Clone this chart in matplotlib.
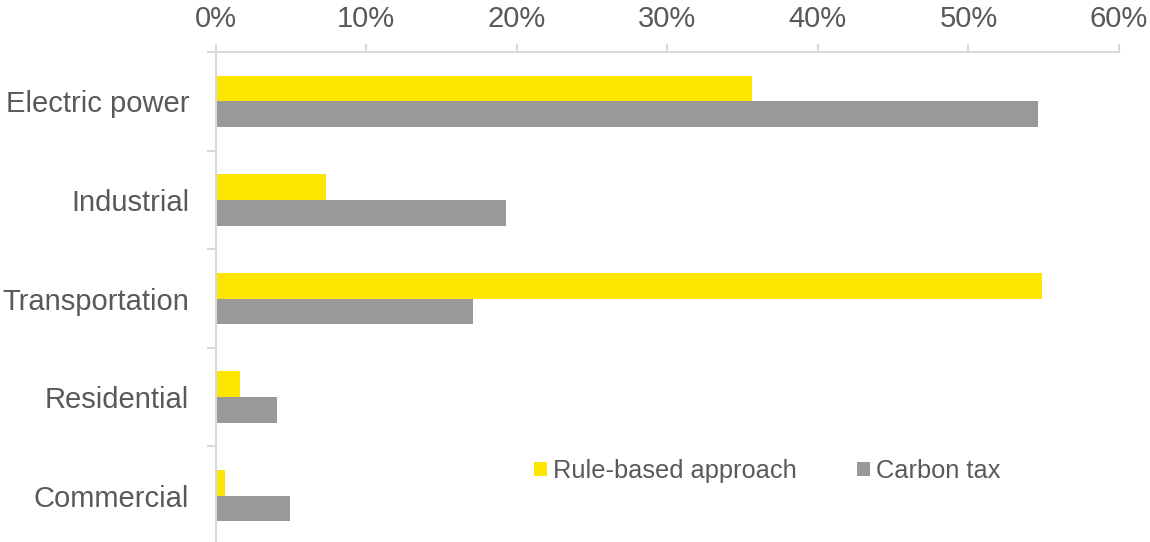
import numpy as np
import matplotlib

matplotlib.use('Agg')
import matplotlib.pyplot as plt
from matplotlib.ticker import PercentFormatter

plt.rcParams['font.family'] = ['Liberation Sans', 'DejaVu Sans']

# data (share of emission reductions, %)
sectors = ['Electric power', 'Industrial', 'Transportation', 'Residential', 'Commercial']
rule_based = [35.6, 7.3, 54.9, 1.6, 0.6]
carbon_tax = [54.6, 19.3, 17.1, 4.1, 4.9]
series_names = ['Rule-based approach', 'Carbon tax']

YELLOW = '#FFE600'
GREY = '#999999'
TEXT = '#595959'
AXIS = '#D9D9D9'

fig = plt.figure(figsize=(11.5, 5.42), dpi=100)
ax = fig.add_axes([0.1876, -0.0055, 0.7854, 0.9095])

y = np.arange(len(sectors))
h = 0.26
ax.barh(y - h / 2, rule_based, height=h, color=YELLOW, label=series_names[0])
ax.barh(y + h / 2, carbon_tax, height=h, color=GREY, label=series_names[1])

ax.set_xlim(0, 60)
ax.set_ylim(len(sectors) - 0.5, -0.5)

# x axis on top
ax.xaxis.tick_top()
ax.set_xticks(np.arange(0, 61, 10))
ax.xaxis.set_major_formatter(PercentFormatter(decimals=0))
ax.tick_params(axis='x', which='major', direction='out', length=6, width=1.5,
               color=AXIS, labelsize=21, labelcolor=TEXT, pad=8)

# y axis: labels at centres, tick marks at boundaries
ax.set_yticks(y)
ax.set_yticklabels(sectors)
ax.set_yticks(np.arange(-0.5, len(sectors), 1.0), minor=True)
ax.tick_params(axis='y', which='major', length=0, labelsize=21, labelcolor=TEXT, pad=19)
ax.tick_params(axis='y', which='minor', direction='out', length=6.5, width=1.5, color=AXIS)

for side in ['right', 'bottom']:
    ax.spines[side].set_visible(False)
for side in ['top', 'left']:
    ax.spines[side].set_color(AXIS)
    ax.spines[side].set_linewidth(1.5)

leg = ax.legend(loc='center', bbox_to_anchor=(0.667, 0.131), bbox_transform=fig.transFigure,
                ncol=2, frameon=False, fontsize=18.3, handlelength=0.51, handleheight=0.51,
                handletextpad=0.24, columnspacing=2.36, borderpad=0)
for t in leg.get_texts():
    t.set_color(TEXT)

fig.savefig('out.png', dpi=100)
